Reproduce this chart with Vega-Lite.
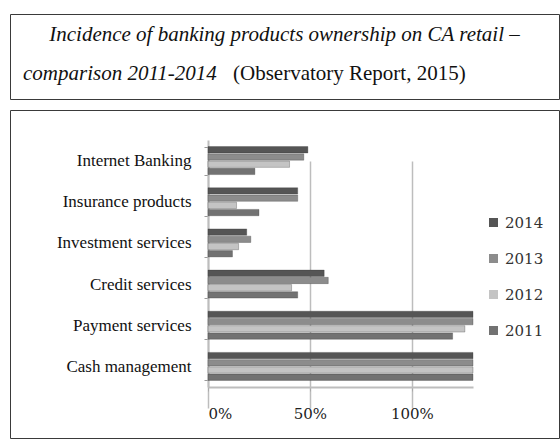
{
  "$schema": "https://vega.github.io/schema/vega-lite/v6.json",
  "padding": {"left": 9, "top": 13, "right": 2, "bottom": 7},
  "autosize": {"type": "pad"},
  "background": "white",
  "config": {"view": {"stroke": "#3a3a3a"}, "font": "Liberation Serif"},
  "spacing": 0,
  "vconcat": [
    {
      "width": 549,
      "height": 85,
      "data": {"values": [{"a": 1}]},
      "mark": {"type": "point", "opacity": 0, "size": 0},
      "encoding": {
        "x": {"field": "a", "type": "quantitative", "axis": null, "scale": {"domain": [0, 2]}},
        "y": {"field": "a", "type": "quantitative", "axis": null, "scale": {"domain": [0, 2]}}
      },
      "title": {
        "text": ["\u200b\u00a0\u00a0\u00a0\u00a0\u00a0Incidence of banking products ownership on CA retail –", "comparison 2011-2014"],
        "subtitle": "\u200b\u00a0\u00a0\u00a0\u00a0\u00a0\u00a0\u00a0\u00a0\u00a0\u00a0\u00a0\u00a0\u00a0\u00a0\u00a0\u00a0\u00a0\u00a0\u00a0\u00a0\u00a0\u00a0\u00a0\u00a0\u00a0\u00a0\u00a0\u00a0\u00a0\u00a0\u00a0\u00a0\u00a0\u00a0\u00a0\u00a0\u00a0\u00a0\u00a0\u00a0(Observatory Report, 2015)",
        "anchor": "start",
        "dx": 13,
        "offset": -70,
        "baseline": "top",
        "font": "Liberation Serif",
        "fontSize": 21,
        "fontStyle": "italic",
        "fontWeight": "normal",
        "color": "#111",
        "lineHeight": 39,
        "subtitleFont": "Liberation Serif",
        "subtitleFontSize": 21,
        "subtitleFontStyle": "normal",
        "subtitleColor": "#111",
        "subtitlePadding": -21
      }
    },
    {
      "width": 549,
      "height": 328,
      "data": {
        "values": [
          {"category": "Internet Banking", "year": "2014", "value": 49},
          {"category": "Internet Banking", "year": "2013", "value": 47},
          {"category": "Internet Banking", "year": "2012", "value": 40},
          {"category": "Internet Banking", "year": "2011", "value": 23},
          {"category": "Insurance products", "year": "2014", "value": 44},
          {"category": "Insurance products", "year": "2013", "value": 44},
          {"category": "Insurance products", "year": "2012", "value": 14},
          {"category": "Insurance products", "year": "2011", "value": 25},
          {"category": "Investment services", "year": "2014", "value": 19},
          {"category": "Investment services", "year": "2013", "value": 21},
          {"category": "Investment services", "year": "2012", "value": 15},
          {"category": "Investment services", "year": "2011", "value": 12},
          {"category": "Credit services", "year": "2014", "value": 57},
          {"category": "Credit services", "year": "2013", "value": 59},
          {"category": "Credit services", "year": "2012", "value": 41},
          {"category": "Credit services", "year": "2011", "value": 44},
          {"category": "Payment services", "year": "2014", "value": 130},
          {"category": "Payment services", "year": "2013", "value": 130},
          {"category": "Payment services", "year": "2012", "value": 126},
          {"category": "Payment services", "year": "2011", "value": 120},
          {"category": "Cash management", "year": "2014", "value": 130},
          {"category": "Cash management", "year": "2013", "value": 130},
          {"category": "Cash management", "year": "2012", "value": 130},
          {"category": "Cash management", "year": "2011", "value": 130}
        ]
      },
      "mark": {"type": "bar", "stroke": "#333", "strokeWidth": 0.5, "strokeOpacity": 0.6},
      "encoding": {
        "y": {
          "field": "category",
          "type": "nominal",
          "sort": ["Internet Banking", "Insurance products", "Investment services", "Credit services", "Payment services", "Cash management"],
          "scale": {"range": [30, 277], "paddingInner": 0.32, "paddingOuter": 0.16},
          "axis": {
            "title": null,
            "offset": -198,
            "grid": false,
            "domainColor": "#bdbdbd",
            "domainWidth": 2,
            "tickColor": "#999",
            "tickSize": 4,
            "tickBand": "extent",
            "labelFont": "Liberation Serif",
            "labelFontSize": 17,
            "labelColor": "#111",
            "labelPadding": 13
          }
        },
        "yOffset": {
          "field": "year",
          "type": "nominal",
          "sort": ["2014", "2013", "2012", "2011"],
          "scale": {"paddingInner": 0.12}
        },
        "x": {
          "field": "value",
          "type": "quantitative",
          "scale": {"domain": [0, 130], "range": [198, 463], "nice": false, "zero": true},
          "axis": {
            "title": null,
            "offset": -51,
            "values": [0, 50, 100],
            "labelExpr": "datum.value + '%'",
            "labelFont": "DejaVu Serif",
            "labelFontSize": 15,
            "labelColor": "#222",
            "tickSize": 4,
            "tickColor": "#aaa",
            "domainColor": "#bdbdbd",
            "domainWidth": 2,
            "grid": true,
            "gridColor": "#bdbdbd",
            "gridWidth": 1.5,
            "labelPadding": 15
          }
        },
        "color": {
          "field": "year",
          "type": "nominal",
          "scale": {"domain": ["2014", "2013", "2012", "2011"], "range": ["#555555", "#8c8c8c", "#c4c4c4", "#727272"]},
          "legend": {
            "title": null,
            "orient": "none",
            "legendX": 476,
            "legendY": 201,
            "symbolType": "square",
            "symbolSize": 81,
            "symbolStrokeWidth": 0,
            "labelFont": "DejaVu Serif",
            "labelFontSize": 15,
            "labelColor": "#333",
            "labelOffset": 4,
            "rowPadding": 20
          }
        }
      }
    }
  ]
}
